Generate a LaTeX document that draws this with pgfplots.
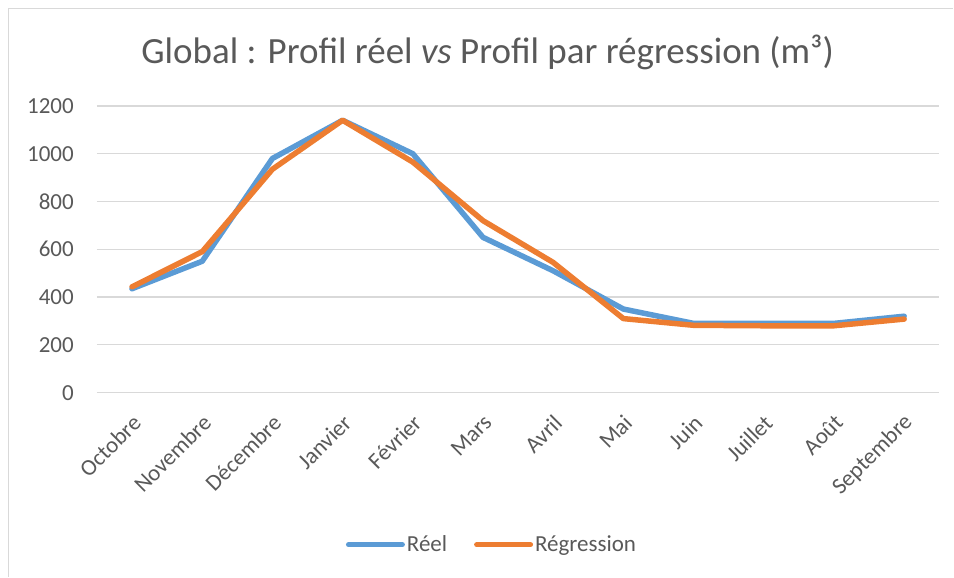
\documentclass[border=0pt]{standalone}
\usepackage{pgfplots}
\pgfplotsset{compat=1.18}
\usepackage{fontspec}
\setmainfont{Carlito}
\definecolor{txtgray}{HTML}{595959}
\definecolor{gridgray}{HTML}{D9D9D9}
\definecolor{blueR}{HTML}{5B9BD5}
\definecolor{orangeR}{HTML}{ED7D31}
\begin{document}
\begin{tikzpicture}[x=1pt,y=1pt]
\path (0,0) rectangle (954,577);
\draw[gridgray, line width=1.5pt] (8.5,0) -- (8.5,568.5) -- (954,568.5);
\node[txtgray, font=\fontsize{37}{42}\selectfont, inner sep=0pt] at (488,525) {Global : Profil réel \textit{vs} Profil par régression (m³)};
\begin{axis}[
  at={(97pt,184pt)}, anchor=south west,
  scale only axis, width=843pt, height=287pt,
  xmin=-0.5, xmax=11.5, ymin=0, ymax=1200,
  ytick={0,200,...,1200},
  xtick={0,...,11},
  xticklabels={Octobre,Novembre,Décembre,Janvier,Février,Mars,Avril,Mai,Juin,Juillet,Août,Septembre},
  axis line style={draw=none},
  major tick length=0pt,
  ymajorgrids, grid style={gridgray, line width=1.2pt},
  /pgf/number format/assume math mode=true,
  /pgf/number format/set thousands separator={},
  yticklabel style={txtgray, font=\fontsize{23}{26}\selectfont, inner sep=0pt, anchor=east, xshift=-23pt},
  xticklabel style={txtgray, font=\fontsize{23}{26}\selectfont, rotate=45, anchor=east, inner sep=0pt, xshift=-15pt, yshift=-22pt},
  legend style={at={(0.469,-0.53)}, anchor=center, draw=none, fill=none, legend columns=2, font=\fontsize{23}{26}\selectfont, text=txtgray, inner sep=0pt, /tikz/every even column/.append style={column sep=25pt}},
  legend cell align=left,
  legend image code/.code={\draw[#1, line cap=round, line width=5pt] (0pt,0pt) -- (54pt,0pt);},
  clip=false,
]
\addplot[blueR, line width=5.5pt, line join=round, line cap=round] coordinates {
(0,435) (1,550) (2,980) (3,1140) (4,1000) (5,650) (6,510) (7,350) (8,290) (9,290) (10,290) (11,320)};
\addlegendentry{Réel}
\addplot[orangeR, line width=5.5pt, line join=round, line cap=round] coordinates {
(0,443) (1,590) (2,935) (3,1140) (4,965) (5,720) (6,545) (7,310) (8,282) (9,280) (10,280) (11,308)};
\addlegendentry{Régression}
\end{axis}
\end{tikzpicture}
\end{document}
